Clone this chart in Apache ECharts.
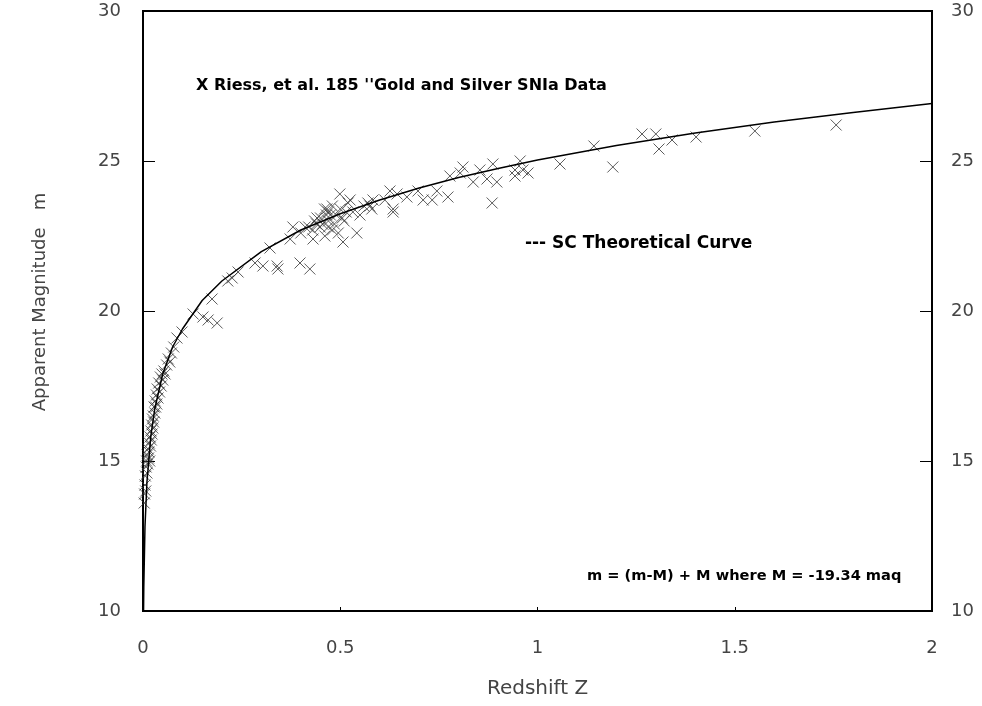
<!DOCTYPE html>
<html>
<head>
<meta charset="utf-8">
<script src="https://cdn.jsdelivr.net/npm/echarts@6/dist/echarts.min.js"></script>
<style>
  html, body { margin: 0; padding: 0; background: #fff; }
  #chart { width: 982px; height: 706px; }
</style>
</head>
<body>
<div id="chart"></div>
<script>
// SNIa data (redshift z, apparent magnitude m)
const snZ = [
  0.003, 0.004, 0.005, 0.006, 0.007, 0.008, 0.009, 0.010, 0.011, 0.012,
  0.013, 0.014, 0.015, 0.016, 0.017, 0.018, 0.019, 0.020, 0.021, 0.022,
  0.023, 0.024, 0.025, 0.026, 0.027, 0.028, 0.030, 0.031, 0.032, 0.034,
  0.035, 0.036, 0.038, 0.040, 0.042, 0.044, 0.046, 0.048, 0.050, 0.053,
  0.056, 0.060, 0.064, 0.068, 0.072, 0.078, 0.086, 0.099, 0.127, 0.152,
  0.165, 0.175, 0.188, 0.215, 0.226, 0.241, 0.284, 0.304, 0.322, 0.340,
  0.342, 0.373, 0.380, 0.398, 0.400, 0.411, 0.420, 0.423, 0.430, 0.431,
  0.440, 0.441, 0.449, 0.450, 0.460, 0.461, 0.466, 0.470, 0.470, 0.480,
  0.480, 0.490, 0.499, 0.500, 0.507, 0.510, 0.520, 0.525, 0.532, 0.542,
  0.550, 0.560, 0.570, 0.575, 0.580, 0.583, 0.613, 0.626, 0.634, 0.634,
  0.644, 0.669, 0.697, 0.710, 0.733, 0.745, 0.773, 0.778, 0.804, 0.811,
  0.837, 0.854, 0.872, 0.885, 0.887, 0.897, 0.943, 0.943, 0.956, 0.963,
  0.976, 1.057, 1.143, 1.191, 1.265, 1.300, 1.308, 1.341, 1.402, 1.551,
  1.757, 0.455, 0.475, 0.485, 0.505, 0.515, 0.435, 0.465, 0.495, 0.47
];
const snM = [
  13.6, 13.9, 14.2, 14.5, 14.0, 14.8, 15.0, 14.6, 15.2, 14.9,
  15.4, 15.1, 15.3, 15.6, 15.0, 15.8, 15.5, 16.0, 15.7, 16.2,
  15.9, 16.4, 16.1, 16.5, 16.3, 16.8, 16.6, 17.0, 16.8, 17.2,
  16.9, 17.4, 17.1, 17.6, 17.3, 17.8, 17.5, 17.9, 17.7, 18.0,
  17.9, 18.2, 18.4, 18.3, 18.6, 18.8, 19.1, 19.3, 19.9, 19.8,
  19.7, 20.4, 19.6, 21.0, 21.1, 21.3, 21.6, 21.5, 22.1, 21.5,
  21.4, 22.4, 22.8, 21.6, 22.6, 22.8, 22.8, 21.4, 22.7, 22.4,
  22.9, 23.1, 22.8, 23.1, 23.4, 22.5, 23.4, 23.0, 23.3, 23.5,
  22.7, 23.2, 23.9, 23.4, 22.3, 23.0, 23.6, 23.7, 23.3, 22.6,
  23.2, 23.5, 23.6, 23.5, 23.4, 23.7, 23.7, 24.0, 23.4, 23.3,
  23.9, 23.8, 24.0, 23.7, 23.7, 24.0, 23.8, 24.5, 24.6, 24.8,
  24.3, 24.7, 24.4, 23.6, 24.9, 24.3, 24.7, 24.5, 25.0, 24.7,
  24.6, 24.9, 25.5, 24.8, 25.9, 25.9, 25.4, 25.7, 25.8, 26.0,
  26.2, 22.9, 23.2, 22.9, 23.1, 23.3, 23.0, 23.2, 22.6, 22.8
];

// theoretical curve
const curveZ = [0.0014, 0.002, 0.005, 0.01, 0.02, 0.03, 0.05, 0.075, 0.1, 0.15,
  0.2, 0.3, 0.4, 0.5, 0.6, 0.7, 0.8, 0.9, 1.0, 1.2, 1.4, 1.6, 1.8, 2.0];
const curveM = [10.0, 10.8, 12.8, 14.3, 15.85, 16.75, 17.9, 18.8, 19.4, 20.35,
  21.0, 21.98, 22.7, 23.24, 23.7, 24.1, 24.45, 24.75, 25.03, 25.52, 25.93, 26.3, 26.62, 26.92];

const xTicks = [0, 0.5, 1, 1.5, 2];
const yTicks = [10, 15, 20, 25, 30];

let myChart = echarts.init(document.getElementById('chart'))

const labelFont = { fontFamily: 'DejaVu Sans', fontSize: 18, color: '#444' }
const noteFont = { fontFamily: 'DejaVu Sans', fontSize: 16, fontWeight: 'bold', color: '#000' }

const yAxisBase = {
  type: 'value',
  min: yTicks[0],
  max: yTicks[yTicks.length - 1],
  interval: 5,
  splitLine: { show: false },
  axisLine: { show: true, lineStyle: { color: '#000', width: 2 } },
  axisTick: { show: true, inside: true, length: 12, lineStyle: { color: '#000', width: 1 } },
  axisLabel: Object.assign({ margin: 22 }, labelFont)
}

let opt = {
  animation: false,
  backgroundColor: '#fff',
  grid: {
    left: 143, right: 50, top: 11, bottom: 95,
    show: true, borderColor: '#000', borderWidth: 2, backgroundColor: 'transparent'
  },
  xAxis: {
    type: 'value',
    min: xTicks[0],
    max: xTicks[xTicks.length - 1],
    interval: 0.5,
    name: 'Redshift Z',
    nameLocation: 'middle',
    nameGap: 68,
    nameTextStyle: Object.assign({}, labelFont, { fontSize: 20 }),
    splitLine: { show: false },
    axisLine: { show: true, lineStyle: { color: '#000', width: 2 } },
    axisTick: { show: true, inside: true, length: 4, lineStyle: { color: '#000', width: 1 } },
    axisLabel: Object.assign({ margin: 28 }, labelFont)
  },
  yAxis: [
    Object.assign({}, yAxisBase, {
      position: 'left',
      name: 'Apparent Magnitude   m',
      nameLocation: 'middle',
      nameGap: 94,
      nameTextStyle: Object.assign({}, labelFont, { padding: [0, 0, 0, 18] })
    }),
    Object.assign({}, yAxisBase, { position: 'right', axisLabel: Object.assign({ margin: 19 }, labelFont) })
  ],
  graphic: [
    { type: 'text', left: 196, top: 78, style: Object.assign({ text: "X Riess, et al. 185 ''Gold and Silver SNIa Data" }, noteFont) },
    { type: 'text', left: 525, top: 235, style: Object.assign({ text: '--- SC Theoretical Curve' }, noteFont, { fontSize: 17 }) },
    { type: 'text', left: 587, top: 569, style: Object.assign({ text: 'm = (m-M) + M where M = -19.34 maq' }, noteFont, { fontSize: 14.6 }) }
  ],
  series: [
    {
      name: 'SC Theoretical Curve',
      type: 'line',
      data: curveZ.map((z, i) => [z, curveM[i]]),
      showSymbol: false,
      symbol: 'none',
      lineStyle: { color: '#000', width: 1.5 },
      z: 3
    },
    {
      name: 'Riess Gold and Silver',
      type: 'scatter',
      data: snZ.map((z, i) => [z, snM[i]]),
      symbol: 'path://M0,0L10,10M10,0L0,10',
      symbolSize: 11,
      itemStyle: { color: 'none', borderColor: '#333', borderWidth: 1 },
      z: 2
    }
  ]
}

myChart.setOption(opt)
</script>
</body>
</html>
